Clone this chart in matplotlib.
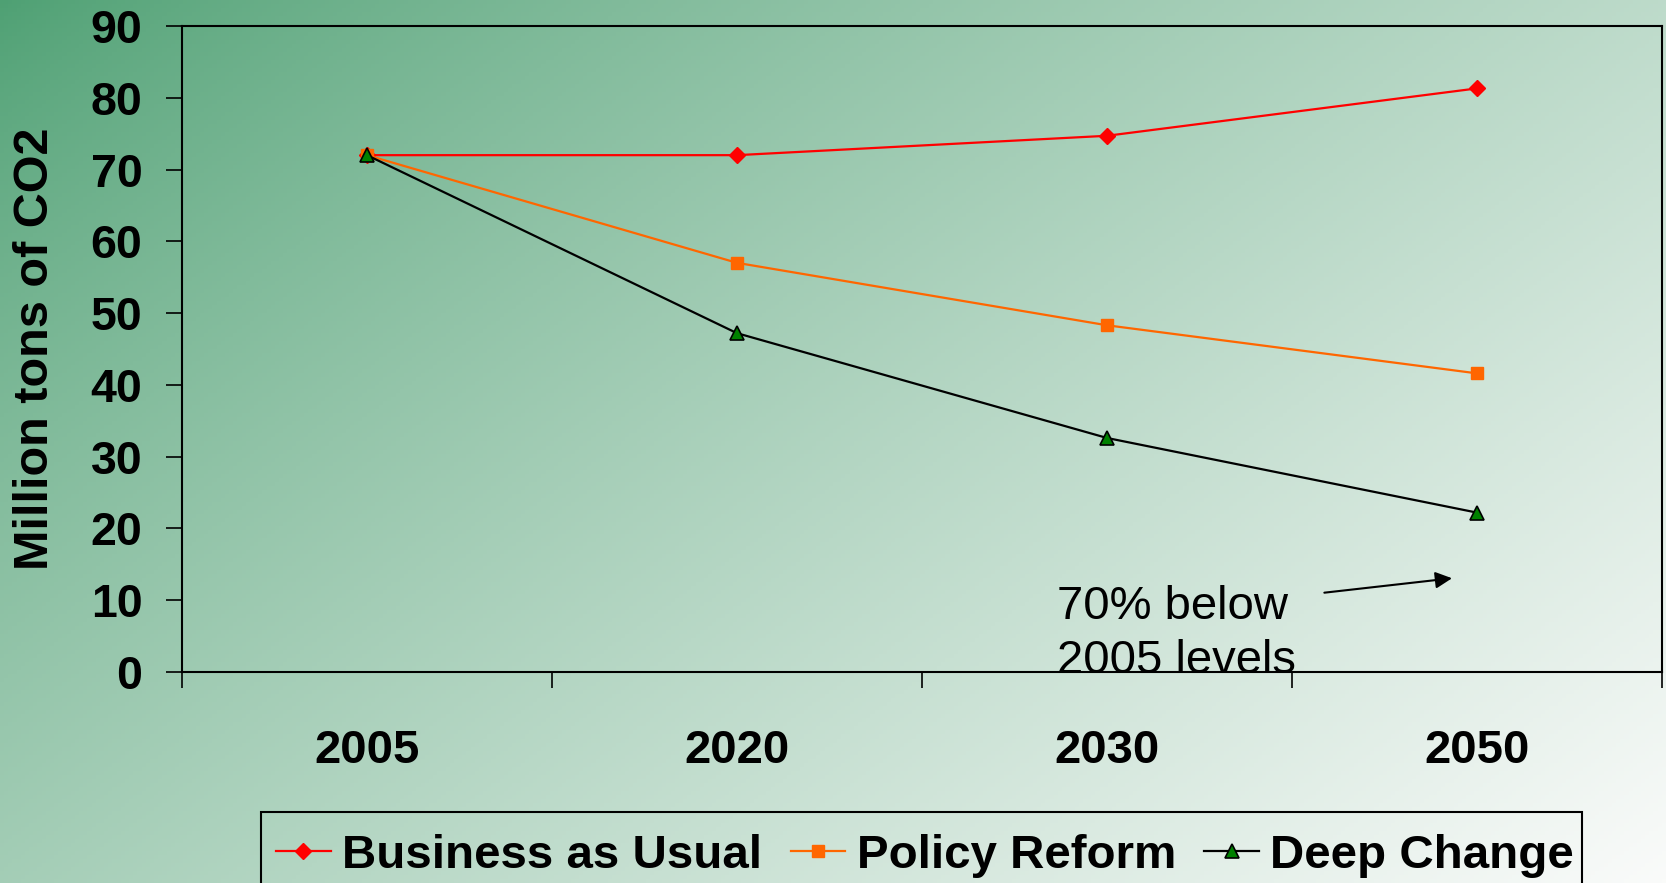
import numpy as np
import matplotlib
matplotlib.use("Agg")
from matplotlib import pyplot as plt
from matplotlib.patches import Rectangle

years = ['2005', '2020', '2030', '2050']
business_as_usual = [72, 72, 74.7, 81.3]
policy_reform = [72, 57, 48.3, 41.6]
deep_change = [72, 47.2, 32.6, 22.2]

plt.rcParams['font.family'] = 'Liberation Sans'

fig = plt.figure(figsize=(16.66, 8.83), dpi=100)

# green to white diagonal backdrop behind everything
bg = fig.add_axes([0, 0, 1, 1], zorder=-10)
gx, gy = np.meshgrid(np.linspace(0, 1, 400), np.linspace(0, 1, 220))
t = (0.58 * gx + 0.42 * gy) ** 0.8
start = np.array([78, 160, 115]) / 255
end = np.array([250, 251, 250]) / 255
grad = start + t[..., None] * (end - start)
bg.imshow(grad, aspect='auto', extent=[0, 1, 0, 1], origin='upper')
bg.axis('off')

ax = fig.add_axes([0.1092, 0.2390, 0.8884, 0.7316])
ax.set_facecolor('none')

x = np.arange(len(years))
ax.plot(x, business_as_usual, color='#FF0000', lw=1.6, marker='D', ms=8,
        label='Business as Usual')
ax.plot(x, policy_reform, color='#FF6600', lw=1.6, marker='s', ms=8.5,
        label='Policy Reform')
ax.plot(x, deep_change, color='black', lw=1.6, marker='^', ms=10,
        mfc='#008000', mec='black', mew=1.2, label='Deep Change')

ax.set_xlim(-0.5, 3.5)
ax.set_ylim(0, 90)
ax.set_yticks(range(0, 91, 10))
ax.set_xticks(x, years)
ax.set_xticks(np.arange(-0.5, 4, 1), minor=True)

ax.tick_params(axis='y', direction='out', length=11.5, width=1.2, pad=17, labelsize=33.5)
ax.tick_params(axis='x', which='major', length=0, pad=41, labelsize=34)
ax.tick_params(axis='x', which='minor', direction='out', length=11.5, width=1.2)
plt.setp(ax.get_xticklabels() + ax.get_yticklabels(), fontweight='bold')

for s in ax.spines.values():
    s.set_linewidth(1.5)
    s.set_color('black')

fig.text(36 / 1666, 1 - 349 / 883, 'Million tons of CO2', rotation=90,
         ha='center', va='center', fontsize=35, fontweight='bold')

# note on the 2050 deep change point
ax.text(1.865, 12.1, '70% below\n2005 levels', ha='left', va='top',
        fontsize=34, linespacing=1.3, clip_on=False)
ax.annotate('', xy=(2.94, 13.1), xytext=(2.58, 11.0),
            arrowprops=dict(arrowstyle='-|>', color='black', lw=1.5, mutation_scale=25))

# legend entries, with its box running off the bottom edge
leg = fig.legend(loc='center left', bbox_to_anchor=(276 / 1666, 1 - 856 / 883),
                 ncol=3, frameon=False, prop=dict(weight='bold', size=34.2),
                 handlelength=1.15, handletextpad=0.24, columnspacing=0.6,
                 borderpad=0, borderaxespad=0, numpoints=1)
fig.patches.append(Rectangle((261 / 1666, -0.05), (1582 - 261) / 1666,
                             (883 - 812) / 883 + 0.05, transform=fig.transFigure,
                             fill=False, edgecolor='black', lw=1.5))

fig.savefig('out.png', dpi=100)
